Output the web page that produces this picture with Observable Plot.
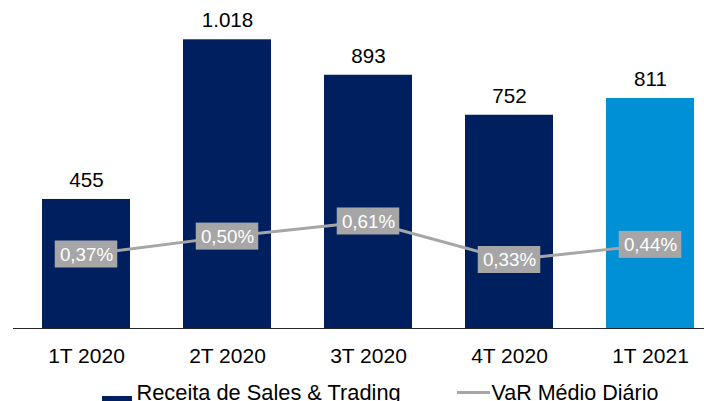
<!DOCTYPE html>
<html><head><meta charset="utf-8">
<script src="https://cdn.jsdelivr.net/npm/d3@7"></script>
<script src="https://cdn.jsdelivr.net/npm/@observablehq/plot@0.6"></script>
<style>
body{margin:0;background:#fff;}
#wrap{position:relative;width:704px;height:401px;overflow:hidden;font-family:"Liberation Sans",Arial,sans-serif;background:#fff;}
#wrap svg{position:absolute;left:0;top:0;}
.leg{position:absolute;font-size:21.8px;line-height:22px;color:#000;white-space:nowrap;}
.sw{position:absolute;}
</style></head><body><div id="wrap"></div>
<script>
const categories = ["1T 2020","2T 2020","3T 2020","4T 2020","1T 2021"];
const receita = [455,1018,893,752,811];
const receitaLabels = ["455","1.018","893","752","811"];
const varMedio = [0.37,0.50,0.61,0.33,0.44];
const varLabels = ["0,37%","0,50%","0,61%","0,33%","0,44%"];
const barColors = ["#001f5f","#001f5f","#001f5f","#001f5f","#0090d6"];
const seriesNames = ["Receita de Sales & Trading","VaR Médio Diário"];

const varToY = d3.scaleLinear().domain([0,1]).range([81.5,566.5]);
const data = categories.map((c,i)=>({
  cat:c, rec:receita[i], recLabel:receitaLabels[i], v:varMedio[i], vLabel:varLabels[i],
  vy:varToY(varMedio[i]), color:barColors[i]
}));
const pxPerUnit = 288.7/1018;
const boxHalf = 13.5/pxPerUnit;

const H = 380, baseY = 328;
const chart = Plot.plot({
  width:704, height:H,
  marginLeft:13, marginRight:0, marginTop:baseY-1100*pxPerUnit, marginBottom:H-baseY,
  style:{fontFamily:'"Liberation Sans",Arial,sans-serif', fontSize:"20px", background:"transparent", overflow:"visible"},
  x:{domain:categories, paddingInner:0.375, paddingOuter:0.127, align:0.75},
  y:{domain:[0,1100], range:[baseY, baseY-1100*pxPerUnit], axis:null},
  marks:[
    Plot.barY(data,{x:"cat", y:"rec", fill:"color"}),
    Plot.ruleY([0],{stroke:"#262626", strokeWidth:1.2}),
    Plot.axisX({tickSize:0, tickPadding:19.2, fontSize:21, label:null, fill:"#000"}),
    Plot.text(data,{x:"cat", y:"rec", text:"recLabel", dy:-19, fontSize:20.6, fill:"#000"}),
    Plot.line(data,{x:"cat", y:"vy", stroke:"#a6a6a6", strokeWidth:3}),
    Plot.barY(data,{x:"cat", y1:d=>d.vy-boxHalf, y2:d=>d.vy+boxHalf, fill:"#a6a6a6", insetLeft:12.75, insetRight:12.75}),
    Plot.text(data,{x:"cat", y:"vy", text:"vLabel", fontSize:18.8, fill:"#fff"})
  ]
});
const wrap = document.getElementById("wrap");
wrap.appendChild(chart);
wrap.insertAdjacentHTML("beforeend",
  `<div class="sw" style="left:101.5px;top:396px;width:30px;height:9px;background:${barColors[0]}"></div>
   <div class="leg" style="left:136.5px;top:382px">${seriesNames[0]}</div>
   <div class="sw" style="left:456.5px;top:391.3px;width:33.5px;height:2.8px;background:#a6a6a6"></div>
   <div class="leg" style="left:491.5px;top:382px;font-size:21.5px">${seriesNames[1]}</div>`);
</script></body></html>
